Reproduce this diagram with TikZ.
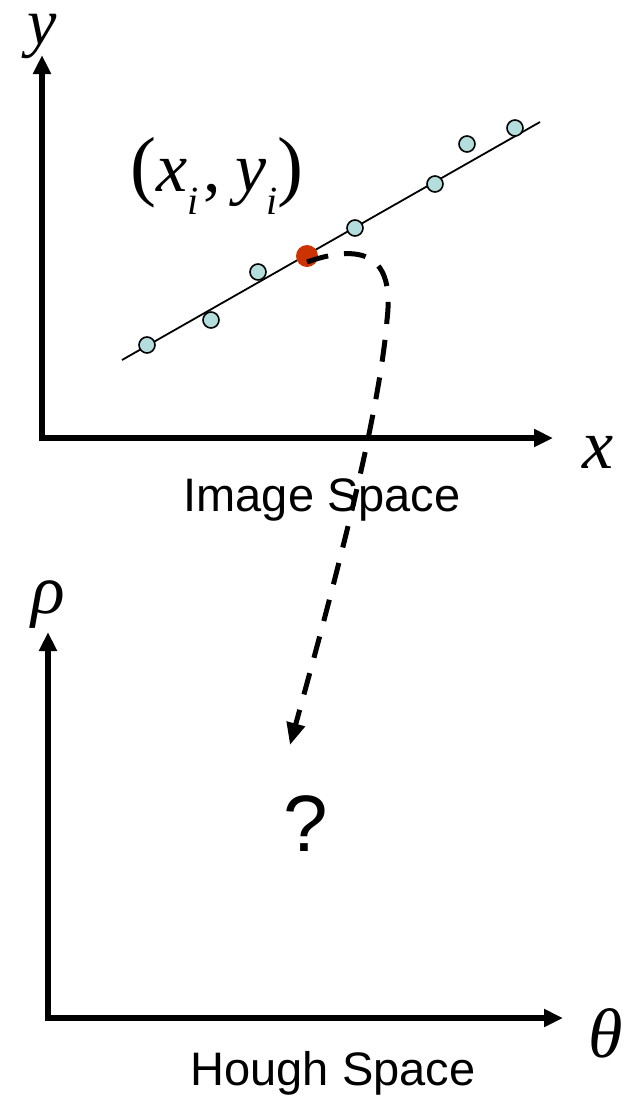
\documentclass[tikz,border=0pt]{standalone}
\usepackage{fontspec}
\setmainfont{Liberation Serif}
\newfontfamily\arialf{Liberation Sans}
\usetikzlibrary{arrows.meta}
\definecolor{ptblue}{RGB}{180,222,222}
\definecolor{ptred}{RGB}{204,51,0}
\newcommand{\subi}{\raisebox{-0.32em}{\fontsize{40}{40}\selectfont\itshape i}}
\tikzset{
  axis/.style={line width=5.5pt,-{Triangle[length=19pt,width=17pt]}},
  mathlbl/.style={font=\fontsize{70}{80}\selectfont\itshape,inner sep=0pt},
  caption/.style={font=\arialf\fontsize{47}{56}\selectfont,inner sep=0pt},
  datapt/.style={circle,draw=black,line width=1.6pt,fill=ptblue,minimum size=16pt,inner sep=0pt},
  selpt/.style={circle,fill=ptred,minimum size=22pt,inner sep=0pt},
  fitline/.style={line width=1.8pt},
  mapping/.style={line width=5pt,dash pattern=on 22pt off 16pt,-{Triangle[length=22pt,width=18pt]}}
}
\begin{document}
\begin{tikzpicture}[x=1pt,y=-1pt]
\useasboundingbox (0,0) rectangle (633,1101);
% image space axes
\coordinate (o1) at (42,438);
\coordinate (ytip) at (42,55);
\coordinate (xtip) at (553,438);
\draw[axis] ([yshift=-2.75pt]o1) -- (ytip);
\draw[axis] ([xshift=-2.75pt]o1) -- (xtip);
\node[mathlbl,font=\fontsize{66}{70}\selectfont\itshape,text height=0.46em,text depth=0.22em] (ylab) at (42,43) {y};
\node[mathlbl] (xlab) at (598,452) {x};
\node[mathlbl] (pt) at (217,176) {{\upshape\fontsize{78}{80}\selectfont(}x\subi\kern5pt{\upshape,}\kern14pt y\subi{\upshape\fontsize{78}{80}\selectfont)}};
\node[caption] (imgcap) at (322,500) {Image Space};
% fitted line and points
\coordinate (la) at (122,360);
\coordinate (lb) at (540,122);
\draw[fitline] (la) -- (lb);
\node[datapt] (p1) at (147,345) {};
\node[datapt] (p2) at (211,320) {};
\node[datapt] (p3) at (258,272) {};
\node[datapt] (p4) at (355,228) {};
\node[datapt] (p5) at (435,184) {};
\node[datapt] (p6) at (467,144) {};
\node[datapt] (p7) at (515,128) {};
\node[selpt] (red) at (307,256) {};
% hough space axes
\coordinate (o2) at (48,1018);
\coordinate (rtip) at (48,632);
\coordinate (ttip) at (563,1018);
\draw[axis] ([yshift=-2.75pt]o2) -- (rtip);
\draw[axis] ([xshift=-2.75pt]o2) -- (ttip);
\node[mathlbl] (rholab) at (48,605) {ρ};
\node[mathlbl] (thlab) at (606,1033) {θ};
\node[caption] (hcap) at (333,1073) {Hough Space};
\node[font=\arialf\fontsize{80}{90}\selectfont,inner sep=0pt] (q) at (306,824) {?};
% mapping arrow
\coordinate (tgt) at (290,745);
\draw[mapping] (red.center) ++(0,6) .. controls (370,240) and (394,262) .. (387,320)
  .. controls (379,420) and (330,600) .. (tgt);
\end{tikzpicture}
\end{document}
